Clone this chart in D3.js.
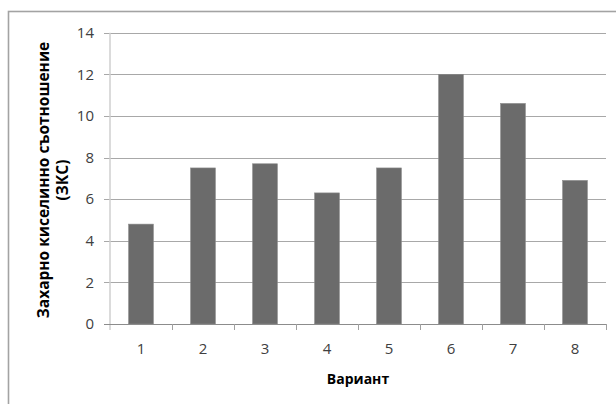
<!DOCTYPE html>
<html>
<head>
<meta charset="utf-8">
<script src="https://cdn.jsdelivr.net/npm/d3@7"></script>
<style>
  html, body { margin: 0; padding: 0; background: #fff; }
  svg { display: block; }
  text { font-family: "Open Sans", "Liberation Sans", sans-serif; }
  .tick-label { font-size: 15px; fill: #404040; }
  .axis-title { font-weight: bold; fill: #000; }
</style>
</head>
<body>
<svg id="chart" width="616" height="404"></svg>
<script>
// Sugar/acid ratio per variant
const variants = ["1", "2", "3", "4", "5", "6", "7", "8"];
const ratios = [4.8, 7.5, 7.7, 6.3, 7.5, 12.0, 10.6, 6.9];
const yTicks = [0, 2, 4, 6, 8, 10, 12, 14];
const xTitle = "Вариант";
const yTitleLines = ["Захарно киселинно съотношение", "(ЗКС)"];

const svg = d3.select("#chart");
const plot = { left: 110, right: 606, top: 32.7, bottom: 324 };

// outer chart frame (only its top and left edges fall inside the view)
svg.append("rect")
  .attr("x", 8.5).attr("y", 11.5)
  .attr("width", 700).attr("height", 500)
  .attr("fill", "none")
  .attr("stroke", "#a3a3a3")
  .attr("stroke-width", 1.6);

const x = d3.scaleBand()
  .domain(variants)
  .range([plot.left, plot.right])
  .paddingInner(0.6)
  .paddingOuter(0.3);

const y = d3.scaleLinear()
  .domain([0, 14])
  .range([plot.bottom, plot.top]);

// horizontal gridlines with short ticks to the left
const yAxis = d3.axisLeft(y)
  .tickValues(yTicks)
  .tickSize(-(plot.right - plot.left))
  .tickPadding(16)
  .tickFormat(d3.format("d"));

const gy = svg.append("g")
  .attr("transform", `translate(${plot.left},0)`)
  .call(yAxis)
  .attr("font-family", null)
  .attr("font-size", 15);
gy.select(".domain").remove();
gy.selectAll(".tick line")
  .attr("x1", -6)
  .attr("stroke", "#a8a8a8")
  .attr("stroke-width", 1)
  .attr("shape-rendering", "crispEdges");
gy.selectAll(".tick text")
  .attr("class", "tick-label")
  .attr("fill", "#404040");

// vertical axis line
svg.append("line")
  .attr("x1", plot.left).attr("x2", plot.left)
  .attr("y1", plot.top).attr("y2", plot.bottom + 6)
  .attr("stroke", "#cfcfcf")
  .attr("stroke-width", 1.5);

// bars
svg.append("g")
  .selectAll("rect")
  .data(ratios)
  .join("rect")
  .attr("x", (d, i) => x(variants[i]))
  .attr("y", d => y(d))
  .attr("width", x.bandwidth())
  .attr("height", d => y(0) - y(d))
  .attr("fill", "#6b6b6b")
  .attr("stroke", "#8a8a8a")
  .attr("stroke-width", 0.6);

// category axis: boundary ticks between bands
const step = x.step();
const bounds = d3.range(variants.length + 1).map(i => plot.left + i * step);
const gx = svg.append("g");
gx.append("line")
  .attr("x1", plot.left - 6).attr("x2", plot.right)
  .attr("y1", plot.bottom).attr("y2", plot.bottom)
  .attr("stroke", "#8c8c8c")
  .attr("stroke-width", 1)
  .attr("shape-rendering", "crispEdges");
gx.selectAll("line.bt")
  .data(bounds.slice(1))
  .join("line")
  .attr("class", "bt")
  .attr("x1", d => d).attr("x2", d => d)
  .attr("y1", plot.bottom).attr("y2", plot.bottom + 6)
  .attr("stroke", "#a0a0a0")
  .attr("stroke-width", 1)
  .attr("shape-rendering", "crispEdges");
gx.selectAll("text")
  .data(variants)
  .join("text")
  .attr("class", "tick-label")
  .attr("x", d => x(d) + x.bandwidth() / 2)
  .attr("y", 354)
  .attr("text-anchor", "middle")
  .text(d => d);

// axis titles
svg.append("text")
  .attr("class", "axis-title")
  .attr("x", 358).attr("y", 384)
  .attr("text-anchor", "middle")
  .attr("font-size", 14)
  .text(xTitle);

const yt = svg.append("text")
  .attr("class", "axis-title")
  .attr("transform", `translate(49,180) rotate(-90)`)
  .attr("text-anchor", "middle")
  .attr("font-size", 15.5);
yTitleLines.forEach((line, i) => {
  yt.append("tspan")
    .attr("x", 0)
    .attr("dy", i === 0 ? 0 : 19)
    .text(line);
});
</script>
</body>
</html>
